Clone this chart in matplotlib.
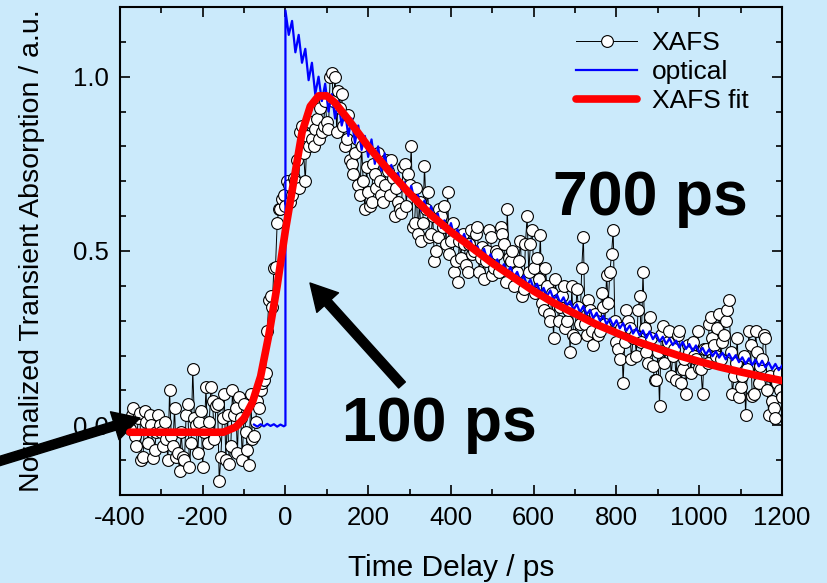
import numpy as np
import matplotlib
matplotlib.use('Agg')
from matplotlib import pyplot as plt
from matplotlib.ticker import MultipleLocator, FormatStrFormatter

plt.rcParams['font.family'] = ['Liberation Sans', 'DejaVu Sans']
plt.rcParams['axes.unicode_minus'] = False

# XAFS transient, even scans: one point every 8 ps from -376 ps to 1200 ps
xafs_t_a = np.arange(-376, 1201, 8)
xafs_y_a = [
    -0.01, 0.05, -0.06, 0.035, -0.09, 0.01, 0.03, -0.095, -0.02, 0.00,
    -0.06, -0.04, 0.10, -0.06, -0.09, -0.13, -0.09, 0.03, -0.12, 0.16,
    0.00, 0.01, -0.12, 0.11, 0.01, 0.07, 0.055, -0.16, 0.02, -0.10,
    -0.11, 0.10, 0.05, 0.08, -0.10, -0.02, -0.115, -0.04, 0.01, 0.05,
    0.12, 0.15, 0.36, 0.34, 0.455, 0.62, 0.65, 0.63, 0.69, 0.66,
    0.70, 0.68, 0.86, 0.70, 0.80, 0.82, 0.85, 0.82, 0.84, 0.93,
    0.85, 1.01, 1.00, 0.96, 0.95, 0.80, 0.89, 0.75, 0.78, 0.69,
    0.80, 0.62, 0.67, 0.64, 0.72, 0.78, 0.66, 0.69, 0.73, 0.76,
    0.60, 0.64, 0.61, 0.75, 0.72, 0.80, 0.58, 0.55, 0.53, 0.745,
    0.67, 0.55, 0.47, 0.54, 0.60, 0.63, 0.67, 0.53, 0.44, 0.41,
    0.48, 0.52, 0.44, 0.56, 0.50, 0.57, 0.48, 0.42, 0.50, 0.54,
    0.45, 0.49, 0.57, 0.52, 0.62, 0.47, 0.40, 0.44, 0.53, 0.39,
    0.60, 0.52, 0.45, 0.48, 0.545, 0.33, 0.40, 0.30, 0.25, 0.36,
    0.34, 0.40, 0.30, 0.21, 0.26, 0.39, 0.29, 0.54, 0.26, 0.33,
    0.23, 0.30, 0.27, 0.34, 0.43, 0.44, 0.56, 0.24, 0.19, 0.12,
    0.33, 0.28, 0.25, 0.20, 0.37, 0.44, 0.21, 0.31, 0.17, 0.13,
    0.055, 0.285, 0.22, 0.27, 0.20, 0.13, 0.27, 0.16, 0.09, 0.21,
    0.24, 0.19, 0.165, 0.09, 0.22, 0.29, 0.25, 0.20, 0.32, 0.24,
    0.30, 0.36, 0.09, 0.18, 0.08, 0.14, 0.03, 0.27, 0.085, 0.27,
    0.12, 0.19, 0.25, 0.03, 0.07, 0.02, 0.15, 0.08,
]

# XAFS transient, odd scans: one point every 8 ps from -372 ps to 1196 ps
xafs_t_b = np.arange(-372, 1197, 8)
xafs_y_b = [
    0.03, -0.03, 0.02, -0.10, 0.04, -0.05, 0.00, -0.07, 0.03, -0.02,
    0.01, -0.10, -0.03, 0.05, -0.08, -0.02, -0.10, 0.06, -0.05, 0.02,
    -0.08, 0.04, -0.02, -0.05, 0.11, -0.04, 0.06, -0.09, 0.09, 0.03,
    -0.06, 0.03, -0.08, 0.02, 0.06, -0.07, 0.09, -0.03, 0.07, 0.10,
    0.13, 0.27, 0.37, 0.45, 0.58, 0.62, 0.66, 0.70, 0.64, 0.71,
    0.76, 0.84, 0.78, 0.83, 0.87, 0.80, 0.88, 0.91, 0.86, 0.87,
    1.00, 0.93, 0.84, 0.91, 0.86, 0.82, 0.76, 0.72, 0.82, 0.66,
    0.70, 0.74, 0.63, 0.75, 0.68, 0.70, 0.64, 0.76, 0.66, 0.71,
    0.68, 0.62, 0.74, 0.63, 0.69, 0.57, 0.68, 0.64, 0.58, 0.62,
    0.54, 0.60, 0.50, 0.62, 0.57, 0.52, 0.49, 0.58, 0.47, 0.53,
    0.55, 0.46, 0.52, 0.49, 0.55, 0.44, 0.51, 0.47, 0.56, 0.43,
    0.50, 0.44, 0.55, 0.41, 0.48, 0.50, 0.43, 0.47, 0.37, 0.52,
    0.44, 0.56, 0.38, 0.42, 0.35, 0.45, 0.32, 0.38, 0.42, 0.30,
    0.37, 0.28, 0.33, 0.40, 0.25, 0.34, 0.45, 0.29, 0.36, 0.27,
    0.32, 0.26, 0.38, 0.29, 0.35, 0.49, 0.30, 0.22, 0.28, 0.24,
    0.30, 0.19, 0.26, 0.33, 0.24, 0.28, 0.18, 0.25, 0.13, 0.21,
    0.26, 0.18, 0.24, 0.14, 0.22, 0.26, 0.12, 0.19, 0.23, 0.15,
    0.20, 0.27, 0.16, 0.22, 0.18, 0.31, 0.23, 0.28, 0.19, 0.26,
    0.33, 0.21, 0.14, 0.25, 0.11, 0.20, 0.16, 0.23, 0.09, 0.21,
    0.17, 0.26, 0.10, 0.14, 0.05, 0.12, 0.10,
]

# optical transient: flat pre-edge, step at t = 0, then 8 ps sampling
optical_pre_t = np.arange(-76, 0, 8)
optical_pre_y = [0.002, -0.004, 0.003, -0.003, 0.004, -0.002, 0.003, -0.004, 0.002, -0.003]
optical_t = np.arange(0, 1201, 8)
optical_y = [
    1.19, 1.12, 1.16, 1.07, 1.12, 1.04, 1.08, 0.99, 1.04, 0.95,
    1.00, 0.93, 0.98, 0.90, 0.95, 0.88, 0.93, 0.86, 0.90, 0.83,
    0.88, 0.81, 0.86, 0.79, 0.83, 0.77, 0.82, 0.75, 0.80, 0.73,
    0.78, 0.72,
    0.747, 0.702, 0.724, 0.676, 0.697, 0.657, 0.687, 0.644, 0.661, 0.616,
    0.645, 0.603, 0.628, 0.590, 0.608, 0.566, 0.588, 0.552, 0.580, 0.541,
    0.562, 0.528, 0.549, 0.515, 0.530, 0.496, 0.514, 0.485, 0.506, 0.473,
    0.491, 0.460, 0.476, 0.445, 0.462, 0.438, 0.454, 0.424, 0.440, 0.413,
    0.429, 0.401, 0.418, 0.392, 0.406, 0.378, 0.394, 0.370, 0.387, 0.361,
    0.375, 0.351, 0.367, 0.344, 0.356, 0.331, 0.347, 0.324, 0.342, 0.318,
    0.331, 0.307, 0.323, 0.300, 0.314, 0.290, 0.306, 0.285, 0.301, 0.278,
    0.293, 0.271, 0.286, 0.263, 0.278, 0.258, 0.272, 0.250, 0.269, 0.247,
    0.262, 0.240, 0.254, 0.233, 0.249, 0.230, 0.243, 0.223, 0.239, 0.219,
    0.233, 0.213, 0.229, 0.209, 0.222, 0.203, 0.218, 0.198, 0.212, 0.194,
    0.208, 0.189, 0.205, 0.187, 0.201, 0.181, 0.195, 0.176, 0.192, 0.173,
    0.188, 0.169, 0.185, 0.166, 0.180, 0.161, 0.176, 0.158, 0.171,
]

# fitted curve for the XAFS data
fit_t = [-376, -300, -200, -150, -120, -100, -80, -60, -40, -20, 0, 20, 40, 60, 80,
         100, 120, 150, 200, 250, 300, 350, 400, 450, 500, 550, 600, 650, 700,
         750, 800, 850, 900, 950, 1000, 1050, 1100, 1150, 1200]
fit_y = [-0.02, -0.02, -0.02, -0.02, -0.005, 0.02, 0.065, 0.14, 0.26, 0.40, 0.56, 0.70,
         0.84, 0.915, 0.945, 0.945, 0.925, 0.88, 0.80, 0.73, 0.665, 0.605, 0.555,
         0.51, 0.465, 0.425, 0.385, 0.35, 0.32, 0.29, 0.265, 0.24, 0.22, 0.20,
         0.183, 0.167, 0.153, 0.14, 0.128]

# merge both scan sets into one time-ordered trace
xafs_t = np.concatenate([xafs_t_a, xafs_t_b])
xafs_y = np.concatenate([xafs_y_a, xafs_y_b])
order = np.argsort(xafs_t, kind='stable')
xafs_t, xafs_y = xafs_t[order], xafs_y[order]

bg = '#cbeafb'
fig = plt.figure(figsize=(8.27, 5.83), dpi=100, facecolor=bg)
ax = fig.add_axes([0.145, 0.151, 0.8006, 0.837], facecolor=bg)

ax.plot(xafs_t, xafs_y, color='black', linewidth=0.7, marker='o', markersize=8.5,
        markerfacecolor='white', markeredgecolor='black', markeredgewidth=0.8,
        label='XAFS', zorder=2)
ax.plot(np.concatenate([optical_pre_t, [0], optical_t]),
        np.concatenate([optical_pre_y, [0.0], optical_y]),
        color='#0000ff', linewidth=1.6, label='optical', zorder=3)
ax.plot(fit_t, fit_y, color='#ff0000', linewidth=5.5, solid_capstyle='round',
        label='XAFS fit', zorder=4)

ax.set_xlim(-400, 1200)
ax.set_ylim(-0.2, 1.2)
ax.xaxis.set_major_locator(MultipleLocator(200))
ax.xaxis.set_minor_locator(MultipleLocator(100))
ax.yaxis.set_major_locator(MultipleLocator(0.5))
ax.yaxis.set_minor_locator(MultipleLocator(0.1))
ax.yaxis.set_major_formatter(FormatStrFormatter('%.1f'))

for spine in ax.spines.values():
    spine.set_linewidth(1.5)
ax.tick_params(which='both', direction='in', top=True, right=True, width=1.2, labelsize=18.5)
ax.tick_params(which='major', length=7, pad=8)
ax.tick_params(which='minor', length=4)

ax.set_xlabel('Time Delay / ps', fontsize=21.5, labelpad=17)
ax.set_ylabel('Normalized Transient Absorption / a.u.', fontsize=20.5, labelpad=20)

leg = ax.legend(loc='upper right', bbox_to_anchor=(0.985, 1.0), frameon=False,
                fontsize=19, handlelength=2.3, handletextpad=0.55, labelspacing=0.2)

# lifetimes
ax.text(881, 0.603, '700 ps', fontsize=45, fontweight='bold', ha='center', va='baseline')
ax.text(371, -0.046, '100 ps', fontsize=45, fontweight='bold', ha='center', va='baseline')

# arrows
arrow_style = dict(facecolor='black', edgecolor='black', width=6.5, headwidth=21,
                   headlength=19, shrink=0)
ax.annotate('', xy=(310, 300), xycoords='figure pixels',
            xytext=(402, 198), textcoords='figure pixels', arrowprops=arrow_style)
ax.annotate('', xy=(140, 165), xycoords='figure pixels',
            xytext=(-10, 119), textcoords='figure pixels', arrowprops=arrow_style,
            annotation_clip=False)

fig.savefig('out.png', dpi=100, facecolor=bg)
